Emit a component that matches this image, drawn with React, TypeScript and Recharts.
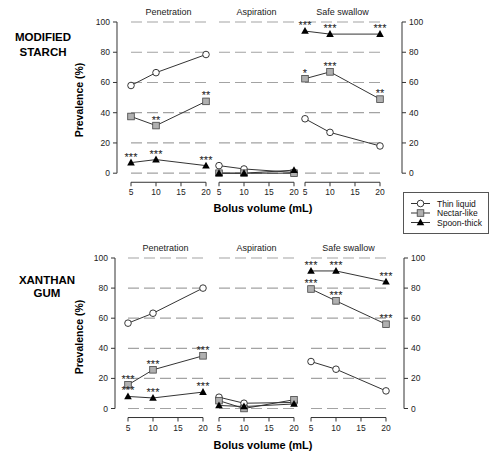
import React from 'react';
import { LineChart, Line, XAxis, YAxis, ReferenceLine, LabelList } from 'recharts';

// ---------- data ----------
const volumes = [5, 10, 20];
const xTicks = [5, 10, 15, 20];
const yTicks = [0, 20, 40, 60, 80, 100];
const seriesNames = ['Thin liquid', 'Nectar-like', 'Spoon-thick'];
const panelTitles = ['Penetration', 'Aspiration', 'Safe swallow'];
const rowTitlesStarch = ['MODIFIED', 'STARCH'];
const rowTitlesXanthan = ['XANTHAN', 'GUM'];
const xAxisTitle = 'Bolus volume (mL)';
const yAxisTitle = 'Prevalence (%)';

// Modified starch
const msPenThin = [58, 66.5, 78.5];
const msPenNectar = [37.5, 31.5, 47.5];
const msPenSpoon = [7, 9, 5];
const msAspThin = [5, 2.8, 0.5];
const msAspNectar = [0, 0, 0];
const msAspSpoon = [0, 0, 2];
const msSafeThin = [36, 27, 18];
const msSafeNectar = [62.5, 67, 49];
const msSafeSpoon = [94, 92, 92];
const msPenNectarSig = ['', '**', '**'];
const msPenSpoonSig = ['***', '***', '***'];
const msSafeNectarSig = ['*', '***', '**'];
const msSafeSpoonSig = ['***', '***', '***'];

// Xanthan gum
const xgPenThin = [56.7, 63.3, 80];
const xgPenNectar = [15.7, 25.7, 35];
const xgPenSpoon = [8, 7, 10.9];
const xgAspThin = [7.5, 3.5, 4];
const xgAspNectar = [5.2, 0, 5.8];
const xgAspSpoon = [2, 1.3, 3];
const xgSafeThin = [31.2, 26.1, 11.7];
const xgSafeNectar = [79.4, 71.5, 56];
const xgSafeSpoon = [91.4, 91.4, 84.3];
const xgPenNectarSig = ['***', '***', '***'];
const xgPenSpoonSig = ['***', '***', '***'];
const xgSafeNectarSig = ['***', '***', '***'];
const xgSafeSpoonSig = ['***', '***', '***'];

const noSig = ['', '', ''];

const makeRows = (thin: number[], nectar: number[], spoon: number[], nectarSig: string[], spoonSig: string[]) =>
  volumes.map((x, i) => ({
    x,
    thin: thin[i],
    nectar: nectar[i],
    spoon: spoon[i],
    nectarSig: nectarSig[i],
    spoonSig: spoonSig[i],
  }));

const starchPanels = [
  makeRows(msPenThin, msPenNectar, msPenSpoon, msPenNectarSig, msPenSpoonSig),
  makeRows(msAspThin, msAspNectar, msAspSpoon, noSig, noSig),
  makeRows(msSafeThin, msSafeNectar, msSafeSpoon, msSafeNectarSig, msSafeSpoonSig),
];
const xanthanPanels = [
  makeRows(xgPenThin, xgPenNectar, xgPenSpoon, xgPenNectarSig, xgPenSpoonSig),
  makeRows(xgAspThin, xgAspNectar, xgAspSpoon, noSig, noSig),
  makeRows(xgSafeThin, xgSafeNectar, xgSafeSpoon, xgSafeNectarSig, xgSafeSpoonSig),
];

// ---------- styling / layout ----------
const FONT = '"Liberation Sans", Arial, Helvetica, sans-serif';
const LINE = '#333';
const GRID = '#a3a3a3';
const M = 14;
const MT = 20;
const XAXIS_H = 26;
const Y_MIN = -6;

type Kind = 'thin' | 'nectar' | 'spoon';
const kinds: Kind[] = ['thin', 'nectar', 'spoon'];

function Marker({ kind, cx, cy }: { kind: Kind; cx: number; cy: number }) {
  if (cx == null || cy == null) return null;
  if (kind === 'thin')
    return <circle cx={cx} cy={cy} r={3.3} fill="#fff" stroke="#222" strokeWidth={0.9} />;
  if (kind === 'nectar')
    return <rect x={cx - 3.3} y={cy - 3.3} width={6.6} height={6.6} fill="#b0b0b0" stroke="#444" strokeWidth={0.8} />;
  return <path d={`M${cx},${cy - 4} L${cx + 3.8},${cy + 2.8} L${cx - 3.8},${cy + 2.8} Z`} fill="#000" />;
}

const Stars = (p: any) => {
  if (!p.value) return null;
  return (
    <text x={p.x} y={p.y - 2} textAnchor="middle" fontSize={11} style={{ fill: '#222' }} fontFamily={FONT}>
      {p.value}
    </text>
  );
};

function Panel({ rows, x5, y100, ppu }: { rows: any[]; x5: number; y100: number; ppu: number }) {
  const plotH = (100 - Y_MIN) * ppu;
  const W = 75 + 2 * M;
  const H = MT + plotH + XAXIS_H;
  return (
    <div style={{ position: 'absolute', left: x5 - M, top: y100 - MT }}>
      <LineChart width={W} height={H} data={rows} margin={{ top: MT, right: M, bottom: 0, left: M }}>
        <XAxis
          dataKey="x"
          type="number"
          domain={[5, 20]}
          ticks={xTicks}
          interval={0}
          height={XAXIS_H}
          tickSize={4}
          tickMargin={3}
          tick={{ fontSize: 8.5, fill: '#222' }}
          axisLine={{ stroke: LINE }}
          tickLine={{ stroke: LINE }}
        />
        <YAxis hide type="number" domain={[Y_MIN, 100]} />
        {yTicks.map((v) => (
          <ReferenceLine key={v} y={v} stroke={GRID} strokeWidth={1.2} strokeDasharray="11 5" />
        ))}
        {kinds.map((k) => (
          <Line
            key={k}
            dataKey={k}
            stroke={LINE}
            strokeWidth={1}
            isAnimationActive={false}
            dot={(p: any) => <Marker key={`${k}${p.index}`} kind={k} cx={p.cx} cy={p.cy} />}
            activeDot={false}
          >
            {k !== 'thin' && <LabelList dataKey={`${k}Sig`} content={Stars} />}
          </Line>
        ))}
      </LineChart>
    </div>
  );
}

function SideAxis({ rows, axisX, y100, ppu, side }: { rows: any[]; axisX: number; y100: number; ppu: number; side: 'left' | 'right' }) {
  const plotH = 100 * ppu;
  const AW = side === 'left' ? axisX : 30;
  const W = AW + 10;
  const H = MT + plotH + 10;
  const left = side === 'left' ? 0 : axisX - 10;
  return (
    <div style={{ position: 'absolute', left, top: y100 - MT }}>
      <LineChart
        width={W}
        height={H}
        data={rows}
        margin={{ top: MT, right: 0, bottom: 10, left: 0 }}
      >
        <XAxis hide dataKey="x" type="number" domain={[5, 20]} />
        <YAxis
          orientation={side}
          type="number"
          domain={[0, 100]}
          ticks={yTicks}
          interval={0}
          width={AW}
          tickSize={4}
          tickMargin={3}
          tick={{ fontSize: 8.5, fill: '#222' }}
          axisLine={{ stroke: LINE }}
          tickLine={{ stroke: LINE }}
        />
        <Line dataKey="thin" stroke="none" dot={false} activeDot={false} isAnimationActive={false} />
      </LineChart>
    </div>
  );
}

function Row({
  panels, x5s, y100, ppu, leftX, rightX, titles, titleX, titleYs, titleY, xLabelY, yLabelY,
}: any) {
  return (
    <>
      <svg width={501} height={462} style={{ position: 'absolute', left: 0, top: 0 }}>
        {panelTitles.map((t, i) => (
          <text key={t} x={x5s[i] + 37.5} y={titleY} textAnchor="middle" dominantBaseline="central" fontSize={9} fill="#222" fontFamily={FONT}>
            {t}
          </text>
        ))}
        {titles.map((t: string, i: number) => (
          <text key={t} x={titleX} y={titleYs[i]} textAnchor="middle" dominantBaseline="central" fontSize={11.5} fontWeight="bold" fill="#000" fontFamily={FONT}>
            {t}
          </text>
        ))}
        <text x={263} y={xLabelY} textAnchor="middle" dominantBaseline="central" fontSize={11} fontWeight="bold" fill="#000" fontFamily={FONT}>
          {xAxisTitle}
        </text>
        <text
          x={79}
          y={yLabelY}
          textAnchor="middle"
          dominantBaseline="central"
          fontSize={10.5}
          fontWeight="bold"
          fill="#000"
          fontFamily={FONT}
          transform={`rotate(-90 79 ${yLabelY})`}
        >
          {yAxisTitle}
        </text>
      </svg>
      <SideAxis rows={panels[0]} axisX={leftX} y100={y100} ppu={ppu} side="left" />
      <SideAxis rows={panels[0]} axisX={rightX} y100={y100} ppu={ppu} side="right" />
      {panels.map((rows: any[], i: number) => (
        <Panel key={i} rows={rows} x5={x5s[i]} y100={y100} ppu={ppu} />
      ))}
    </>
  );
}

function Legend() {
  const ys = [203.5, 213, 222.5];
  return (
    <svg width={501} height={462} style={{ position: 'absolute', left: 0, top: 0 }}>
      <rect x={403.5} y={192.5} width={85} height={41} fill="#fff" stroke="#555" strokeWidth={1} />
      {seriesNames.map((n, i) => (
        <g key={n}>
          <line x1={411} x2={430} y1={ys[i]} y2={ys[i]} stroke={LINE} strokeWidth={1} />
          <Marker kind={kinds[i]} cx={420.5} cy={ys[i]} />
          <text x={437} y={ys[i]} dominantBaseline="central" fontSize={8.5} fill="#111" fontFamily={FONT}>
            {n}
          </text>
        </g>
      ))}
    </svg>
  );
}

export default function App() {
  return (
    <div
      style={{
        position: 'absolute',
        left: 0,
        top: 0,
        width: 501,
        height: 462,
        background: '#fff',
        fontFamily: FONT,
        overflow: 'hidden',
      }}
    >
      <Row
        panels={starchPanels}
        x5s={[131, 219, 305]}
        y100={22.3}
        ppu={1.512}
        leftX={117}
        rightX={402}
        titles={rowTitlesStarch}
        titleX={43}
        titleYs={[37, 52]}
        titleY={12}
        xLabelY={208}
        yLabelY={100}
      />
      <Row
        panels={xanthanPanels}
        x5s={[128, 219, 311]}
        y100={258.2}
        ppu={1.505}
        leftX={115}
        rightX={404}
        titles={rowTitlesXanthan}
        titleX={47}
        titleYs={[280, 293]}
        titleY={248}
        xLabelY={445}
        yLabelY={337}
      />
      <Legend />
    </div>
  );
}
